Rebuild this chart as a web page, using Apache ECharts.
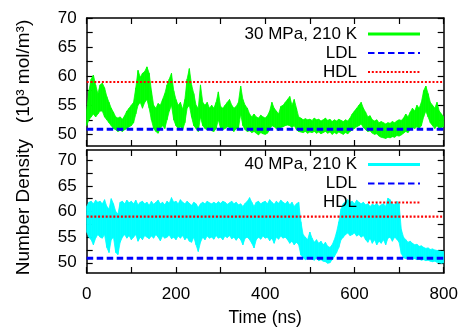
<!DOCTYPE html>
<html>
<head>
<meta charset="utf-8">
<script src="https://cdn.jsdelivr.net/npm/echarts@6/dist/echarts.min.js"></script>
<style>
html, body { margin: 0; padding: 0; background: #fff; }
#chart { width: 463px; height: 329px; }
</style>
</head>
<body>
<div id="chart"></div>
<script>
// sample spacing of the read-off envelopes (ns)
var step = 5;

// 30 MPa, 210 K: upper / lower edge of the noisy trace
var topHi = [
    54.0, 57.5, 59.5, 60.2, 58.5, 57.0, 58.5, 58.8, 58.0, 56.5,
    55.5, 54.5, 53.8, 53.0, 52.8, 53.0, 52.6, 53.2, 54.0, 54.5,
    55.0, 55.5, 58.0, 61.0, 59.8, 60.5, 60.8, 61.6, 60.5, 57.5,
    55.0, 54.5, 55.3, 55.0, 56.0, 57.0, 58.5, 59.5, 60.5, 57.5,
    56.0, 55.0, 55.5, 54.3, 56.0, 59.5, 61.3, 58.5, 57.0, 55.0,
    54.5, 58.5, 55.5, 55.0, 55.5, 54.5, 55.0, 54.5, 55.5, 57.3,
    54.8, 54.5, 55.0, 55.5, 56.0, 55.0, 54.5, 54.8, 55.5, 58.3,
    56.0, 55.0, 54.5, 53.5, 53.0, 53.5, 53.0, 52.8, 53.3, 53.0,
    52.8, 53.2, 54.0, 55.5, 54.5, 54.0, 53.5, 54.8, 55.0, 55.5,
    56.0, 56.5, 55.0, 56.0, 54.5, 53.0, 52.8, 52.5, 52.7, 52.5,
    52.6, 52.4, 52.8, 52.5, 52.6, 52.3, 52.5, 52.8, 52.4, 52.6,
    52.2, 52.5, 52.3, 52.6, 52.4, 52.2, 52.5, 52.3, 52.8, 53.5,
    54.0, 54.5, 55.0, 55.5, 54.5, 53.8, 53.0, 53.2, 52.5, 52.3,
    52.5, 52.0, 52.2, 52.0, 51.8, 52.0, 51.9, 52.2, 52.0, 52.3,
    52.5, 52.4, 52.8, 53.5, 53.0, 53.8, 54.5, 54.0, 55.0, 54.5,
    55.5, 57.5, 58.3, 57.0, 55.5, 55.0, 54.5, 55.5, 54.0, 53.5,
    53.0
];
var topLo = [
    51.5, 52.5, 53.0, 53.5, 53.0, 53.5, 54.0, 54.0, 53.0, 52.5,
    52.0, 51.5, 51.0, 50.8, 50.5, 50.7, 50.5, 50.8, 51.0, 51.3,
    51.5, 52.0, 53.5, 55.0, 55.5, 54.5, 55.5, 56.0, 54.5, 52.5,
    51.0, 50.5, 50.2, 51.0, 51.5, 51.0, 52.5, 54.0, 55.0, 52.5,
    51.5, 51.0, 51.3, 50.8, 52.0, 54.5, 55.0, 53.0, 51.5, 51.0,
    50.5, 53.0, 51.5, 51.0, 50.8, 51.2, 50.6, 50.5, 51.0, 52.5,
    51.0, 50.8, 51.0, 51.3, 51.2, 50.8, 50.5, 51.0, 51.0, 53.5,
    51.5, 50.8, 50.5, 50.6, 50.3, 50.5, 50.2, 49.9, 50.3, 50.1,
    50.0, 50.2, 50.8, 51.5, 51.3, 51.0, 50.6, 51.2, 51.3, 51.5,
    51.6, 51.5, 51.2, 51.5, 50.8, 50.5, 50.4, 50.3, 50.5, 50.2,
    50.4, 50.3, 50.5, 50.2, 50.4, 50.1, 50.3, 50.5, 50.2, 50.4,
    50.0, 50.3, 50.1, 50.4, 50.2, 50.0, 50.3, 50.1, 50.5, 50.8,
    51.0, 51.3, 51.5, 51.8, 51.2, 50.8, 50.5, 50.6, 50.2, 50.0,
    50.1, 49.7, 49.5, 49.4, 49.3, 49.5, 49.4, 49.6, 49.5, 49.8,
    49.7, 49.9, 50.2, 50.5, 50.3, 50.8, 51.2, 51.0, 51.3, 51.0,
    51.5, 53.0, 54.0, 53.0, 52.0, 51.5, 51.0, 51.5, 51.0, 51.2,
    51.3
];

// 40 MPa, 210 K
var botHi = [
    61.0, 61.8, 62.0, 61.5, 62.2, 61.8, 62.0, 61.5, 62.3, 61.0,
    60.5, 62.5, 61.5, 60.0, 59.5, 61.8, 62.0, 61.5, 62.2, 61.7,
    62.0, 61.5, 62.2, 61.3, 61.8, 62.0, 61.5, 61.8, 61.2, 62.0,
    61.4, 61.8, 62.2, 61.5, 61.8, 61.3, 62.0, 61.6, 62.7, 61.8,
    62.0, 61.5, 62.3, 61.8, 61.5, 62.0, 61.6, 61.2, 61.8, 61.5,
    60.8, 61.5, 61.8, 61.5, 62.0, 61.7, 61.5, 61.8, 61.5, 61.9,
    61.6, 62.0, 61.8, 61.4, 61.7, 62.0, 61.5, 61.8, 61.3, 61.5,
    61.0, 61.6, 62.0, 62.7, 61.8, 61.0, 61.8, 62.0, 61.5, 61.8,
    62.0, 61.5, 62.3, 61.8, 61.4, 62.0, 61.6, 62.2, 61.8, 61.5,
    62.0, 61.3, 61.8, 61.0, 61.5, 61.8, 58.0, 55.5, 55.0, 54.5,
    56.0, 54.8, 54.0, 54.5, 53.8, 54.2, 53.5, 54.0, 53.2, 53.0,
    53.5, 54.5, 56.0, 58.0, 60.5, 61.5, 62.0, 62.3, 61.8, 62.0,
    61.5, 62.2, 61.8, 61.5, 61.8, 61.3, 61.5, 61.0, 61.4, 61.2,
    61.6, 61.0, 61.3, 61.5, 61.0, 62.6, 62.3, 61.5, 61.3, 62.0,
    61.5, 56.5, 55.0, 54.5, 54.0, 54.2, 53.8, 53.5, 53.6, 53.2,
    53.3, 53.0, 52.8, 52.9, 52.6, 52.7, 52.5, 52.4, 52.3, 52.2,
    52.2
];
var botLo = [
    56.0, 55.0, 54.5, 53.5, 54.8, 55.5, 55.0, 54.8, 55.5, 53.0,
    52.0, 54.5, 55.0, 52.0, 51.6, 54.0, 55.0, 55.5, 54.8, 55.3,
    54.5, 55.0, 55.5, 54.2, 55.0, 54.5, 55.3, 55.0, 54.7, 55.2,
    54.8, 55.5, 55.0, 54.3, 55.2, 54.8, 55.0, 55.4, 54.7, 55.0,
    54.5, 55.2, 54.8, 55.3, 54.5, 55.0, 54.2, 54.0, 55.0, 53.5,
    52.2, 54.0, 55.0, 54.5, 55.2, 54.8, 55.0, 54.6, 55.3, 54.8,
    55.0, 54.5, 55.2, 54.9, 55.3, 54.7, 55.0, 54.4, 55.0, 54.5,
    53.5, 54.8, 55.0, 54.5, 53.8, 52.9, 54.5, 55.0, 54.6, 55.2,
    54.8, 55.0, 54.3, 54.8, 53.8, 55.0, 54.6, 55.2, 54.8, 55.0,
    54.5, 53.8, 54.2, 53.5, 54.0, 53.5, 51.5, 51.0, 50.6, 50.8,
    51.2, 50.7, 50.5, 50.9, 50.4, 50.6, 50.3, 50.2, 49.9, 50.0,
    50.6, 51.2, 52.0, 53.0, 54.5, 55.0, 55.5, 55.8, 55.3, 55.5,
    55.8, 55.2, 55.5, 55.0, 55.3, 54.5, 54.0, 54.8, 53.8, 54.5,
    53.5, 54.2, 53.8, 54.5, 53.5, 54.8, 55.0, 54.2, 55.0, 54.6,
    54.0, 51.8, 51.0, 50.8, 50.9, 51.0, 50.7, 50.8, 50.6, 50.7,
    50.5, 50.6, 50.4, 50.5, 50.3, 50.2, 50.3, 50.1, 50.0, 49.9,
    50.0
];

// reference densities
var ldl = 50.9;
var hdl = 59.0;

// axis ranges and ticks
var xRange = [0, 800];
var topRange = [48, 70];
var botRange = [48, 72];
var yLabels = [50, 55, 60, 65, 70];
var yTicks = [50, 52.5, 55, 57.5, 60, 62.5, 65, 67.5, 70];

var FONT = '"Liberation Sans", Arial, sans-serif';
var green = '#00ff00';
var cyan = '#00ffff';
var blue = '#0000ff';
var red = '#ff0000';

var times = topHi.map(function (v, i) { return i * step; });

// one item per interval: [t0, lo0, hi0, t1, lo1, hi1]
function segments(hi, lo) {
    var out = [];
    for (var i = 0; i < times.length - 1; i++) {
        out.push([times[i], lo[i], hi[i], times[i + 1], lo[i + 1], hi[i + 1]]);
    }
    return out;
}
function flat(v) {
    return [[xRange[0], v], [xRange[1], v]];
}

function xAx(grid, pos, labels) {
    return {
        type: 'value', gridIndex: grid, position: pos,
        min: xRange[0], max: xRange[1], interval: 100,
        splitLine: { show: false },
        axisLine: { show: true, onZero: false, lineStyle: { color: '#000', width: 1.5 } },
        axisTick: { show: true, inside: true, length: 6, lineStyle: { color: '#000', width: 1.2 } },
        axisLabel: {
            show: labels, color: '#000', fontFamily: FONT, fontSize: 17, margin: 13,
            formatter: function (v) { return v % 200 === 0 ? String(v) : ''; }
        }
    };
}
function yAx(grid, pos, range, labels) {
    return {
        type: 'value', gridIndex: grid, position: pos,
        min: range[0], max: range[1],
        splitLine: { show: false },
        axisLine: { show: true, onZero: false, lineStyle: { color: '#000', width: 1.5 } },
        axisTick: { show: true, inside: true, length: 6, customValues: yTicks,
            lineStyle: { color: '#000', width: 1.2 } },
        axisLabel: { show: labels, customValues: yLabels, color: '#000',
            fontFamily: FONT, fontSize: 17, margin: 10 }
    };
}

function refLines(xi, yi) {
    return [
        { name: 'LDL', type: 'line', xAxisIndex: xi, yAxisIndex: yi, data: flat(ldl),
          symbol: 'none', z: 4, lineStyle: { color: blue, width: 3, type: [6.5, 3.5] }, itemStyle: { color: blue } },
        { name: 'HDL', type: 'line', xAxisIndex: xi, yAxisIndex: yi, data: flat(hdl),
          symbol: 'none', z: 4, lineStyle: { color: red, width: 2.2, type: [2, 1.8] }, itemStyle: { color: red } }
    ];
}
// filled band between lower and upper edge, drawn through the axes' coord()
function bandSeries(name, hi, lo, color, xi, yi) {
    return {
        name: name, type: 'custom', xAxisIndex: xi, yAxisIndex: yi, z: 2, clip: true,
        itemStyle: { color: color },
        encode: { x: [0, 3], y: [1, 2, 4, 5] },
        data: segments(hi, lo),
        renderItem: function (params, api) {
            var a = api.coord([api.value(0), api.value(1)]);
            var b = api.coord([api.value(3), api.value(4)]);
            var c = api.coord([api.value(3), api.value(5)]);
            var d = api.coord([api.value(0), api.value(2)]);
            return {
                type: 'polygon',
                shape: { points: [a, b, c, d] },
                style: { fill: color, stroke: color, lineWidth: 0.8 }
            };
        }
    };
}
function legendFor(top, name, color) {
    return {
        top: top, right: 42, orient: 'vertical', align: 'right', padding: 0,
        itemWidth: 52, itemHeight: 12, itemGap: 2, selectedMode: false,
        itemStyle: { opacity: 0 },
        textStyle: { color: '#000', fontFamily: FONT, fontSize: 17, lineHeight: 17, padding: [0, 6, 0, 0] },
        data: [
            { name: name, icon: 'path://M0,0H52V3H0Z', itemStyle: { color: color, opacity: 1 } },
            'LDL', 'HDL'
        ]
    };
}

var chart = echarts.init(document.getElementById('chart'), null, { renderer: 'canvas' });

chart.setOption({
    backgroundColor: '#fff',
    animation: false,
    grid: [
        { left: 86.7, right: 19.3, top: 18, height: 128 },
        { left: 86.7, right: 19.3, top: 150, height: 123 }
    ],
    xAxis: [
        xAx(0, 'bottom', false),
        xAx(0, 'top', false),
        Object.assign(xAx(1, 'bottom', true), {
            name: 'Time (ns)', nameLocation: 'middle', nameGap: 36,
            nameTextStyle: { color: '#000', fontFamily: FONT, fontSize: 17.5 }
        }),
        xAx(1, 'top', false)
    ],
    yAxis: [
        yAx(0, 'left', topRange, true),
        yAx(0, 'right', topRange, false),
        yAx(1, 'left', botRange, true),
        yAx(1, 'right', botRange, false)
    ],
    legend: [
        legendFor(25.5, '30 MPa, 210 K', green),
        legendFor(156, '40 MPa, 210 K', cyan)
    ],
    graphic: [{
        type: 'text', x: 24, y: 147.5, rotation: Math.PI / 2,
        style: {
            text: 'Number Density   (10³ mol/m³)', fill: '#000',
            font: '19px ' + FONT, textAlign: 'center', textVerticalAlign: 'middle'
        }
    }],
    series: [].concat(
        bandSeries('30 MPa, 210 K', topHi, topLo, green, 0, 0),
        refLines(0, 0),
        bandSeries('40 MPa, 210 K', botHi, botLo, cyan, 2, 2),
        refLines(2, 2)
    )
});
</script>
</body>
</html>
